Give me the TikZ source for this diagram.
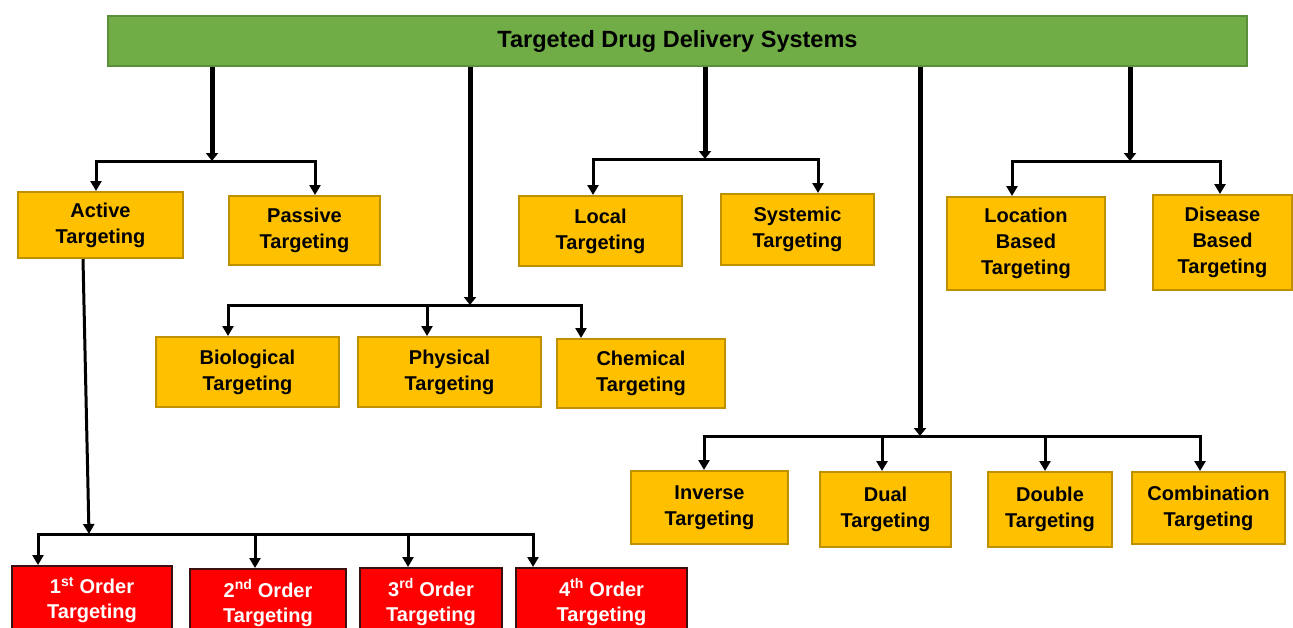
\documentclass[tikz,border=0pt]{standalone}
\usepackage{fontspec}
\setmainfont{Liberation Sans}
\usetikzlibrary{arrows.meta}
\definecolor{gfill}{HTML}{70AD47}
\definecolor{gline}{HTML}{5B8F3A}
\definecolor{yfill}{HTML}{FFC000}
\definecolor{yline}{HTML}{BF9000}
\definecolor{rfill}{HTML}{FF0000}
\definecolor{rline}{HTML}{3A1010}
\begin{document}
\begin{tikzpicture}[x=1pt,y=-1pt,
  box/.style={draw, line width=2pt, align=center, inner sep=0pt, font=\bfseries\fontsize{20}{26}\selectfont},
  ybox/.style={box, fill=yfill, draw=yline},
  rbox/.style={box, fill=rfill, draw=rline, text=white, font=\bfseries\fontsize{20}{25}\selectfont},
  gbox/.style={box, fill=gfill, draw=gline, font=\bfseries\fontsize{23.5}{26}\selectfont},
  trunk/.style={line width=5pt, -{Triangle[length=8pt,width=12pt]}},
  bus/.style={line width=3pt, line cap=rect},
  branch/.style={line width=3pt, -{Triangle[length=10pt,width=11pt]}}]
\useasboundingbox (0,0) rectangle (1293,627);
\clip (0,0) rectangle (1293,627);
\fill[white] (0,0) rectangle (1293,627);
% nodes
\node[gbox, minimum width=1139pt, minimum height=50pt] (root) at (677.5,41) {Targeted Drug Delivery Systems};
\node[ybox, minimum width=165pt, minimum height=66pt] (act) at (100.5,225) {Active\\Targeting};
\node[ybox, minimum width=151pt, minimum height=69pt] (pas) at (304.5,230.5) {Passive\\Targeting};
\node[ybox, minimum width=163pt, minimum height=70pt] (loc) at (600.5,231) {Local\\Targeting};
\node[ybox, minimum width=153pt, minimum height=71pt] (sys) at (797.5,229.5) {Systemic\\Targeting};
\node[ybox, minimum width=158pt, minimum height=93pt] (lba) at (1026,243.5) {Location\\Based\\Targeting};
\node[ybox, minimum width=139pt, minimum height=95pt] (dba) at (1222.5,242.5) {Disease\\Based\\Targeting};
\node[ybox, minimum width=183pt, minimum height=70pt] (bio) at (247.5,372) {Biological\\Targeting};
\node[ybox, minimum width=183pt, minimum height=70pt] (phy) at (449.5,372) {Physical\\Targeting};
\node[ybox, minimum width=168pt, minimum height=69pt] (che) at (641,373.5) {Chemical\\Targeting};
\node[ybox, minimum width=157pt, minimum height=73pt] (inv) at (709.5,507.5) {Inverse\\Targeting};
\node[ybox, minimum width=131pt, minimum height=75pt] (dua) at (885.5,509.5) {Dual\\Targeting};
\node[ybox, minimum width=124pt, minimum height=75pt] (dou) at (1050,509.5) {Double\\Targeting};
\node[ybox, minimum width=153pt, minimum height=72pt] (com) at (1208.5,508) {Combination\\Targeting};
\node[rbox, minimum width=160pt, minimum height=68pt] (r1) at (92,600) {1\textsuperscript{st} Order\\Targeting};
\node[rbox, minimum width=156pt, minimum height=68pt] (r2) at (268,603) {2\textsuperscript{nd} Order\\Targeting};
\node[rbox, minimum width=142pt, minimum height=68pt] (r3) at (431,602) {3\textsuperscript{rd} Order\\Targeting};
\node[rbox, minimum width=171pt, minimum height=68pt] (r4) at (601.5,602) {4\textsuperscript{th} Order\\Targeting};
% junction coordinates
\coordinate (t1) at (212,161);
\coordinate (t2) at (470,305);
\coordinate (t3) at (705,159);
\coordinate (t4) at (920,436);
\coordinate (t5) at (1130,161);
\coordinate (b1a) at (96,161);   \coordinate (b1b) at (315,161);
\coordinate (b2a) at (228,305);  \coordinate (b2b) at (427,305);  \coordinate (b2c) at (581,305);
\coordinate (b3a) at (593,159);  \coordinate (b3b) at (818,159);
\coordinate (b4a) at (704,436);  \coordinate (b4b) at (882,436);  \coordinate (b4c) at (1045,436); \coordinate (b4d) at (1200,436);
\coordinate (b5a) at (1012,161); \coordinate (b5b) at (1220,161);
\coordinate (b6a) at (38,534);   \coordinate (b6b) at (255,534);  \coordinate (b6c) at (408,534);  \coordinate (b6d) at (533,534);
\coordinate (t6) at (89,534);
% trunks
\draw[trunk] (t1 |- root.south) -- (t1);
\draw[trunk] (t2 |- root.south) -- (t2);
\draw[trunk] (t3 |- root.south) -- (t3);
\draw[trunk] (t4 |- root.south) -- (t4);
\draw[trunk] (t5 |- root.south) -- (t5);
% buses
\draw[bus] (b1a) -- (b1b);
\draw[bus] (b2a) -- (b2c);
\draw[bus] (b3a) -- (b3b);
\draw[bus] (b4a) -- (b4d);
\draw[bus] (b5a) -- (b5b);
\draw[bus] (b6a) -- (b6d);
% branches
\draw[branch] (b1a) -- (b1a |- act.north);
\draw[branch] (b1b) -- (b1b |- pas.north);
\draw[branch] (b2a) -- (b2a |- bio.north);
\draw[branch] (b2b) -- (b2b |- phy.north);
\draw[branch] (b2c) -- (b2c |- che.north);
\draw[branch] (b3a) -- (b3a |- loc.north);
\draw[branch] (b3b) -- (b3b |- sys.north);
\draw[branch] (b4a) -- (b4a |- inv.north);
\draw[branch] (b4b) -- (b4b |- dua.north);
\draw[branch] (b4c) -- (b4c |- dou.north);
\draw[branch] (b4d) -- (b4d |- com.north);
\draw[branch] (b5a) -- (b5a |- lba.north);
\draw[branch] (b5b) -- (b5b |- dba.north);
\draw[branch] ([xshift=-17.5pt]act.south) -- (t6);
\draw[branch] (b6a) -- (b6a |- r1.north);
\draw[branch] (b6b) -- (b6b |- r2.north);
\draw[branch] (b6c) -- (b6c |- r3.north);
\draw[branch] (b6d) -- (b6d |- r4.north);
\end{tikzpicture}
\end{document}
